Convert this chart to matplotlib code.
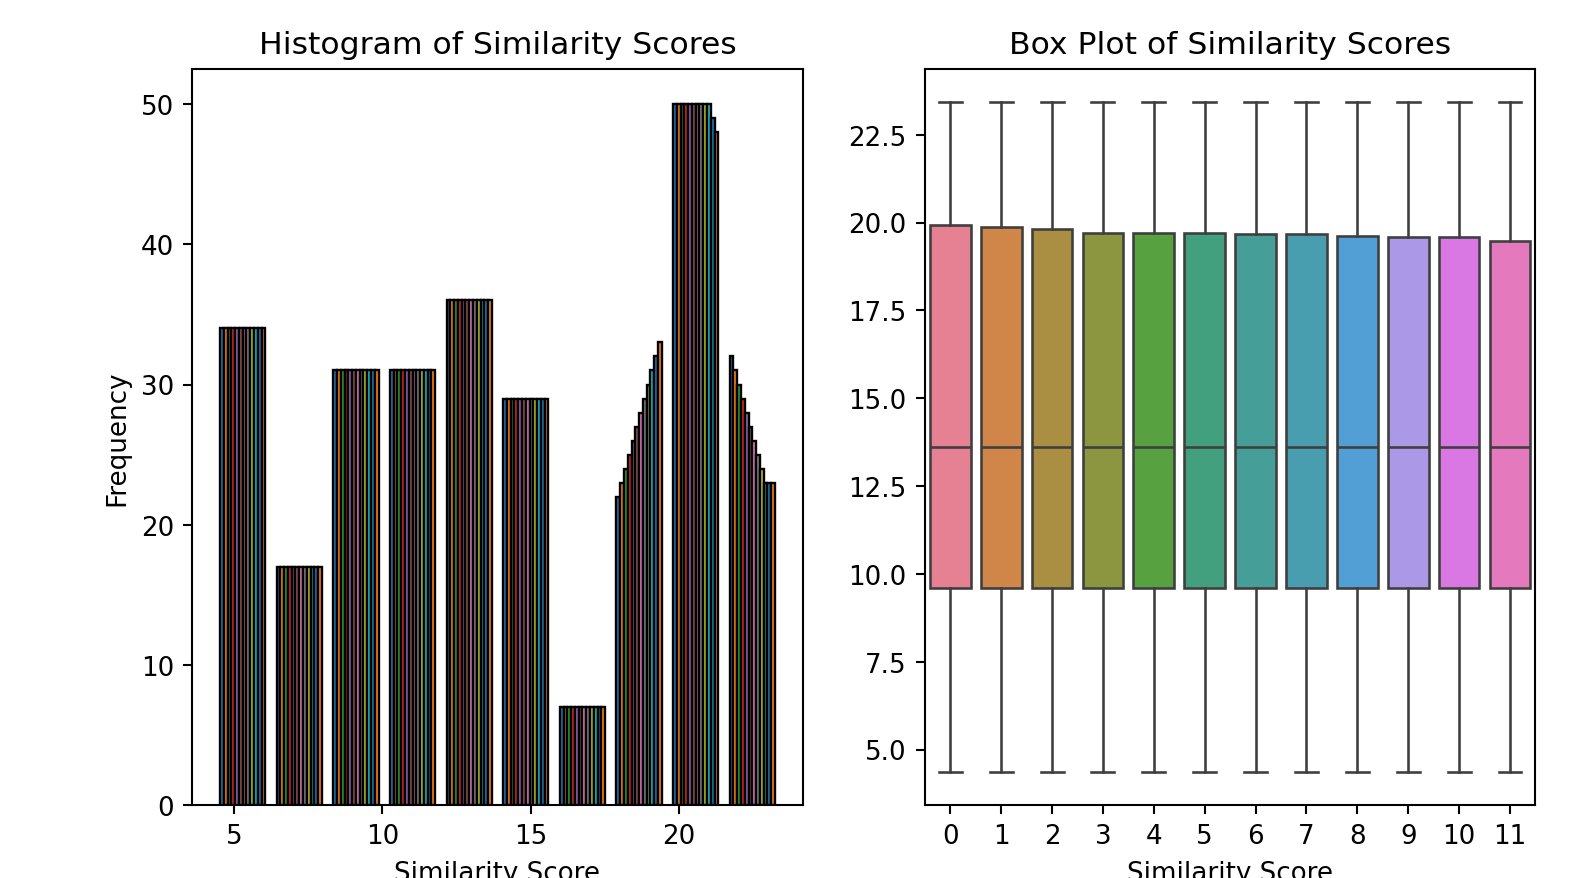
import numpy as np
import matplotlib.pyplot as plt
import seaborn as sns

# histogram: 12 score columns, 10 shared bins
score_min = 4.33
score_max = 23.43
n_bins = 10
shared_counts = [34, 17, 31, 31, 36, 29, 7]
bin7_counts = [22, 23, 24, 25, 26, 27, 28, 29, 30, 31, 32, 33]
bin8_counts = [50, 50, 50, 50, 50, 50, 50, 50, 50, 50, 49, 48]
bin9_counts = [32, 31, 30, 29, 28, 27, 26, 25, 24, 23, 23, 23]

# box plot stats per column
columns = list(range(12))
q1 = [9.59] * 12
medians = [13.62] * 12
q3 = [19.92, 19.87, 19.81, 19.70, 19.70, 19.70, 19.67, 19.67, 19.61, 19.58, 19.58, 19.47]
whis_lo = [4.37] * 12
whis_hi = [23.42] * 12


def draw_hist(ax):
    edges = np.linspace(score_min, score_max, n_bins + 1)
    centers = (edges[:-1] + edges[1:]) / 2
    weights = []
    for i in columns:
        weights.append(shared_counts + [bin7_counts[i], bin8_counts[i], bin9_counts[i]])
    data = [centers for _ in columns]
    ax.hist(data, bins=edges, weights=weights, edgecolor='black', linewidth=0.9)
    ax.set_title('Histogram of Similarity Scores')
    ax.set_xlabel('Similarity Score')
    ax.set_ylabel('Frequency')


def draw_box(ax):
    palette = [sns.desaturate(c, 0.75) for c in sns.color_palette('husl', len(columns))]
    stats = []
    for i in columns:
        stats.append({'med': medians[i], 'q1': q1[i], 'q3': q3[i],
                      'whislo': whis_lo[i], 'whishi': whis_hi[i], 'fliers': []})
    line = dict(color='#3f3f3f', linewidth=1.0)
    bp = ax.bxp(stats, positions=columns, widths=0.8, capwidths=0.45, patch_artist=True,
                showfliers=False, boxprops=dict(edgecolor='#3f3f3f', linewidth=1.0),
                whiskerprops=line, capprops=line, medianprops=line)
    for patch, col in zip(bp['boxes'], palette):
        patch.set_facecolor(col)
    ax.set_xticks(columns)
    ax.set_xticklabels([str(c) for c in columns])
    ax.set_xlim(-0.5, 11.5)
    ax.set_title('Box Plot of Similarity Scores')
    ax.set_xlabel('Similarity Score')


if __name__ == "__main__":
    dpi = 188
    fig, (ax1, ax2) = plt.subplots(1, 2, figsize=(1586 / dpi, 878.8 / dpi), dpi=dpi)
    fig.subplots_adjust(left=0.1212, right=0.9681, bottom=0.0828, top=0.9206, wspace=0.2)
    draw_hist(ax1)
    draw_box(ax2)
    fig.savefig('out.png', dpi=dpi)
